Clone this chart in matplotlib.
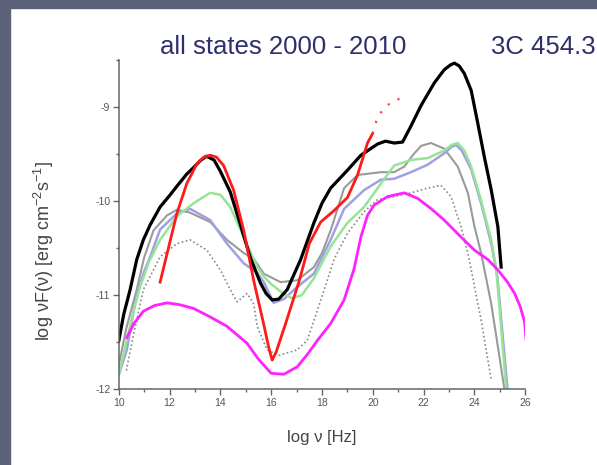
import matplotlib
matplotlib.use("Agg")
import matplotlib.pyplot as plt
from matplotlib.patches import Rectangle

plt.rcParams['font.family'] = ['Liberation Sans', 'DejaVu Sans']
plt.rcParams['mathtext.default'] = 'regular'

# SED curves (log nu, log nuF(nu))
black_x = [10.0, 10.2, 10.45, 10.71, 10.97, 11.24, 11.63, 12.03, 12.29, 12.68, 12.95, 13.2, 13.45, 13.75,
           14.0, 14.39, 14.79, 15.18, 15.58, 15.8, 16.04, 16.3, 16.63, 17.16, 17.68, 18.0, 18.34, 19.0,
           19.53, 20.19, 20.5, 20.84, 21.17, 21.5, 21.9, 22.42, 22.81, 23.05, 23.21, 23.4, 23.6, 23.87,
           24.13, 24.39, 24.66, 24.92, 25.05]
black_y = [-11.49, -11.2, -10.94, -10.62, -10.41, -10.25, -10.06, -9.93, -9.84, -9.71, -9.64, -9.57, -9.52,
           -9.56, -9.68, -9.90, -10.25, -10.60, -10.87, -10.98, -11.05, -11.04, -10.94, -10.62, -10.23,
           -10.02, -9.86, -9.67, -9.51, -9.39, -9.36, -9.38, -9.37, -9.20, -8.98, -8.74, -8.60, -8.55,
           -8.53, -8.56, -8.64, -8.82, -9.17, -9.53, -9.88, -10.27, -10.70]

red_x = [11.63, 12.0, 12.29, 12.68, 13.08, 13.35, 13.6, 13.85, 14.13, 14.52, 14.92, 15.31, 15.7, 15.9,
         16.04, 16.2, 16.57, 17.1, 17.5, 17.95, 18.47, 19.0, 19.4, 19.79, 19.99]
red_y = [-10.86, -10.45, -10.13, -9.81, -9.60, -9.53, -9.51, -9.53, -9.62, -9.88, -10.31, -10.84, -11.30,
         -11.55, -11.69, -11.60, -11.30, -10.85, -10.45, -10.22, -10.10, -9.96, -9.72, -9.38, -9.28]

red_ext_x = [19.99, 20.19, 20.51, 20.9, 21.24]
red_ext_y = [-9.28, -9.10, -8.99, -8.92, -8.90]

gray_x = [10.0, 10.3, 10.71, 11.0, 11.37, 11.9, 12.29, 12.8, 13.6, 14.26, 14.92, 15.31, 15.71, 16.37,
          17.03, 17.68, 18.0, 18.34, 18.87, 19.4, 20.32, 20.84, 21.24, 21.6, 21.9, 22.29, 22.81, 23.34,
          23.74, 24.0, 24.26, 24.66, 25.18]
gray_y = [-11.75, -11.35, -10.94, -10.6, -10.31, -10.15, -10.09, -10.12, -10.22, -10.41, -10.55, -10.61,
          -10.77, -10.86, -10.84, -10.70, -10.55, -10.31, -9.86, -9.72, -9.69, -9.69, -9.63, -9.50,
          -9.41, -9.38, -9.44, -9.63, -9.91, -10.27, -10.55, -11.09, -12.0]

green_x = [10.0, 10.3, 10.6, 10.84, 11.2, 11.63, 12.29, 12.95, 13.6, 14.0, 14.39, 14.92, 15.45, 15.71,
           16.0, 16.37, 16.8, 17.2, 17.68, 18.34, 19.0, 19.66, 20.32, 20.84, 21.5, 22.16, 22.81, 23.1,
           23.34, 23.6, 23.87, 24.26, 24.66, 24.86, 25.25]
green_y = [-11.85, -11.5, -11.15, -10.91, -10.64, -10.41, -10.16, -10.02, -9.91, -9.93, -10.06, -10.38,
           -10.70, -10.80, -10.88, -10.96, -11.03, -11.0, -10.82, -10.48, -10.23, -10.06, -9.81, -9.62,
           -9.56, -9.54, -9.46, -9.40, -9.38, -9.46, -9.63, -9.99, -10.41, -10.73, -12.0]

blue_x = [10.0, 10.32, 10.7, 11.0, 11.24, 11.63, 12.29, 12.81, 13.6, 14.26, 14.92, 15.45, 15.71, 16.1,
          16.5, 17.03, 17.68, 18.34, 18.87, 19.66, 20.32, 20.84, 21.5, 22.16, 22.81, 23.1, 23.28, 23.5,
          23.87, 24.26, 24.66, 24.9, 25.3]
blue_y = [-11.85, -11.58, -11.0, -10.75, -10.59, -10.30, -10.13, -10.08, -10.2, -10.45, -10.66, -10.76,
          -10.86, -11.08, -11.04, -10.91, -10.77, -10.41, -10.08, -9.88, -9.77, -9.76, -9.69, -9.61,
          -9.49, -9.42, -9.40, -9.46, -9.66, -10.02, -10.45, -10.8, -12.0]

dot_x = [10.3, 10.6, 10.97, 11.63, 12.29, 12.81, 13.47, 14.0, 14.39, 14.66, 15.05, 15.31, 15.45, 15.84,
         16.3, 17.03, 17.42, 17.82, 18.21, 18.47, 19.0, 19.66, 20.19, 20.84, 21.5, 22.16, 22.68, 23.08,
         23.47, 23.74, 23.87, 24.26, 24.66]
dot_y = [-11.8, -11.4, -10.94, -10.59, -10.45, -10.41, -10.52, -10.73, -10.94, -11.07, -10.98, -11.09,
         -11.33, -11.58, -11.64, -11.58, -11.48, -11.16, -10.84, -10.62, -10.34, -10.11, -9.98, -9.95,
         -9.91, -9.86, -9.83, -9.95, -10.27, -10.55, -10.73, -11.26, -11.9]

mag_x = [10.32, 10.6, 10.97, 11.4, 11.9, 12.4, 12.95, 13.6, 14.26, 15.05, 15.5, 16.0, 16.5, 17.03, 17.45,
         17.82, 18.34, 18.87, 19.26, 19.53, 19.79, 20.05, 20.58, 21.24, 21.77, 22.3, 22.81, 23.47, 24.0,
         24.53, 24.92, 25.3, 25.58, 25.8, 25.97, 26.03]
mag_y = [-11.45, -11.30, -11.17, -11.11, -11.08, -11.10, -11.14, -11.23, -11.33, -11.51, -11.68, -11.83,
         -11.84, -11.76, -11.62, -11.48, -11.30, -11.05, -10.72, -10.38, -10.15, -10.04, -9.95, -9.91,
         -9.97, -10.08, -10.20, -10.38, -10.52, -10.62, -10.73, -10.86, -10.98, -11.12, -11.28, -11.47]

fig = plt.figure(figsize=(5.97, 4.65), dpi=100)
fig.patch.set_facecolor('white')

# dark slide frame on left and top
frame = '#5a6178'
fig.add_artist(Rectangle((0, 0), 10 / 597, 1, transform=fig.transFigure, color=frame, zorder=0))
fig.add_artist(Rectangle((0, 1 - 8 / 465), 1, 8 / 465, transform=fig.transFigure, color=frame, zorder=0))

ax = fig.add_axes([0.1988, 0.1628, 0.6811, 0.7075])
ax.set_facecolor('none')

ax.plot(dot_x, dot_y, color='#888888', lw=1.2, linestyle=(0, (1, 1.5)))
ax.plot(gray_x, gray_y, color='#9a9a9a', lw=1.5)
ax.plot(blue_x, blue_y, color='#a0a0e2', lw=1.8)
ax.plot(green_x, green_y, color='#96e496', lw=1.8)
ax.plot(mag_x, mag_y, color='#ff22ff', lw=2.0)
ax.plot(black_x, black_y, color='black', lw=2.3)
ax.plot(red_x, red_y, color='#ff1a1a', lw=2.0)
ax.plot(red_ext_x, red_ext_y, color='#ff4040', lw=1.6, linestyle=(0, (1, 4)))

ax.set_xlim(10, 26)
ax.set_ylim(-12, -8.5)
ax.set_xticks(range(10, 27, 2))
ax.set_xticks(range(11, 26, 2), minor=True)
ax.set_yticks([-12, -11, -10, -9])
ax.set_yticklabels(['-12', '-11', '-10', '-9'])
ax.set_yticks([-11.5, -10.5, -9.5, -8.5], minor=True)

for side in ['top', 'right']:
    ax.spines[side].set_visible(False)
for side in ['left', 'bottom']:
    ax.spines[side].set_color('#666666')
    ax.spines[side].set_linewidth(1.1)
ax.tick_params(which='major', direction='out', length=4, width=1, color='#666666',
               labelsize=7.5, labelcolor='#555555', pad=2)
ax.tick_params(which='minor', direction='out', length=2.5, width=1, color='#666666')

ax.set_xlabel('log ν [Hz]', fontsize=12, color='#444444')
ax.xaxis.set_label_coords(0.5, -0.125)
ax.set_ylabel('log νF(ν) [erg cm$^{-2}$s$^{-1}$]', fontsize=13, color='#444444')
ax.yaxis.set_label_coords(-0.155, 0.42)

fig.text(160 / 597, 0.899, 'all states 2000 - 2010', fontsize=18.5, color='#2e2f6b', va='center', ha='left')
fig.text(491 / 597, 0.899, '3C 454.3', fontsize=18.5, color='#2e2f6b', va='center', ha='left')

fig.savefig('out.png', dpi=100)
